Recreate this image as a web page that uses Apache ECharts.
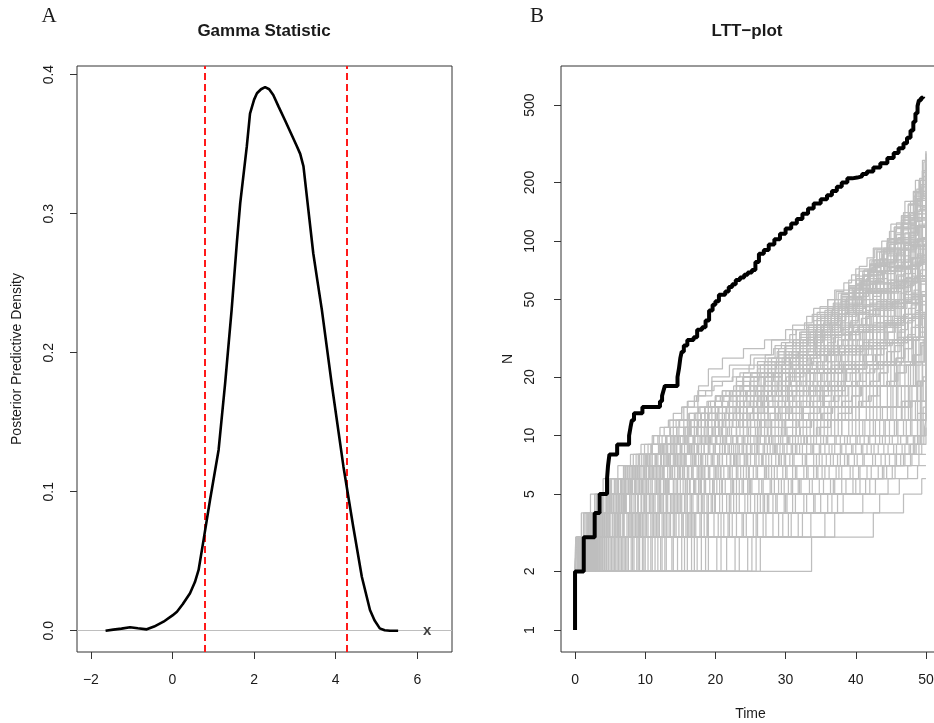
<!DOCTYPE html>
<html><head><meta charset="utf-8">
<script src="https://cdn.jsdelivr.net/npm/echarts@6/dist/echarts.min.js"></script>
<style>html,body{margin:0;padding:0;background:#fff}#c{width:934px;height:723px}</style>
</head><body><div id="c"></div>
<script>
// ---------- Panel A: Gamma statistic posterior predictive density ----------
const densX = [-1.64,-1.45,-1.25,-1.04,-0.85,-0.63,-0.45,-0.22,0.0,0.11,0.25,0.43,0.55,0.64,0.76,0.92,1.13,1.29,1.45,1.58,1.66,1.82,1.90,2.0,2.07,2.17,2.27,2.37,2.47,2.6,2.76,2.9,3.04,3.13,3.21,3.33,3.45,3.55,3.66,3.90,4.19,4.43,4.64,4.84,4.95,5.08,5.2,5.33,5.53];
const densY = [0.0,0.0008,0.0015,0.0025,0.0018,0.001,0.003,0.0065,0.011,0.0137,0.019,0.027,0.035,0.0437,0.065,0.094,0.13,0.178,0.231,0.28,0.3075,0.348,0.372,0.382,0.3866,0.3895,0.391,0.3895,0.3854,0.377,0.367,0.358,0.349,0.343,0.334,0.3027,0.2715,0.252,0.231,0.178,0.118,0.0748,0.0388,0.0149,0.0075,0.0017,0.0004,0.0,0.0];
const ciBounds = [0.80, 4.28];
const observedGamma = [6.24, 0];
const gammaXTicks = [-2, 0, 2, 4, 6];
const gammaYTicks = [0, 0.1, 0.2, 0.3, 0.4];

// ---------- Panel B: LTT plot ----------
const obsT = [0,0,1.24,2.8,3.5,4.56,4.7,4.9,6.0,7.7,7.9,8.1,8.4,9.6,12.1,12.4,12.6,12.8,14.6,14.8,15.0,15.2,15.5,16.0,16.9,17.4,18.1,18.6,19.1,19.6,20.0,20.5,21.4,21.9,22.4,22.9,23.5,24.1,24.6,25.2,25.7,26.2,26.9,27.6,28.4,29.2,30.0,30.8,31.6,32.4,33.2,34.0,35.0,35.9,36.6,37.3,38.0,38.8,39.5,40.2,40.9,41.6,42.5,43.5,44.5,45.4,46.1,46.8,47.3,47.8,48.2,48.5,48.8,49.0,49.3,49.6];
const obsN = [1,2,3,4,5,6,7,8,9,10,11,12,13,14,15,16,17,18,20,22,25,27,29,31,32,35,36,39,44,47,49,53,55,58,60,63,65,67,69,71,78,86,90,96,102,109,116,123,130,138,147,156,164,172,181,190,200,210,212,215,221,228,239,251,267,284,300,318,340,370,410,454,495,530,545,552];
// simulated LTT curves: flat [time, N, time, N, ...]
const simLines = [
 [0,2, 0.4,3, 2.5,4, 4.8,5, 6.5,6, 8.2,7, 9.5,8, 11,9, 12.4,10, 14,12, 15.5,14, 17.5,17, 19.5,20, 22,23, 25,26, 28,31, 31,37, 34,45, 37,56, 40,72, 42.5,92, 45,122, 47,160, 48.5,205, 49.5,260, 50,290],
 [0,2, 1.0,3, 1.6,4, 3.9,5, 5.2,6, 7.5,7, 9.8,8, 12.5,9, 13.8,10, 15.5,11, 17,13, 19,15, 21,17, 24,20, 27,24, 30,29, 33,35, 36,44, 39,57, 42,75, 44.5,98, 46.5,128, 48.3,170, 49.6,225, 50,250],
 [0,2, 0.6,3, 3.0,4, 5.5,5, 7.0,6, 9.0,7, 10.8,8, 13.2,9, 15,10, 16.5,12, 18.5,14, 21,17, 24,21, 27,24, 30,29, 33,36, 36,45, 39,58, 42,76, 44.5,100, 46.8,132, 48.6,175, 50,220],
 [0,2, 2.0,3, 3.3,4, 4.5,5, 6.8,6, 9.2,7, 11.5,8, 12.8,9, 14.2,10, 16,11, 18,13, 20,16, 23,20, 26,23, 29,27, 32,33, 35,41, 38,52, 41,67, 44,88, 46.5,116, 48.5,152, 50,195],
 [0,2, 0.3,3, 4.2,4, 6.0,5, 7.8,6, 8.8,7, 11.8,8, 14.5,9, 16,10, 18,12, 20,14, 22.5,17, 25.5,20, 28.5,24, 31.5,30, 34.5,37, 37.5,47, 40.5,61, 43.5,80, 46,104, 48.3,138, 50,180],
 [0,2, 1.3,3, 2.2,4, 5.0,5, 6.2,6, 10.0,7, 12.2,8, 14.0,9, 17.5,10, 19,11, 21,13, 23.5,15, 26,18, 29,23, 32,29, 35,37, 38,48, 41,62, 44,80, 46.5,102, 48.5,132, 50,165],
 [0,2, 3.1,3, 4.0,4, 5.9,5, 8.5,6, 10.8,7, 13.5,8, 15.2,9, 16.8,10, 18.5,12, 21,14, 24,17, 27,21, 30,26, 33,33, 36,42, 39,54, 42,70, 45,92, 47.5,118, 50,150],
 [0,2, 0.8,3, 5.3,4, 7.2,5, 9.6,6, 12.0,7, 13.0,8, 16.2,9, 18.8,10, 20.5,12, 23,14, 26,17, 29,21, 32,27, 35,34, 38,44, 41,57, 44,74, 47,98, 49,122, 50,140],
 [0,2, 2.6,3, 6.5,4, 7.3,5, 9.0,6, 11.2,7, 14.8,8, 17.0,9, 19.5,10, 21.5,12, 24,14, 27,17, 30,21, 33,26, 36,33, 39,43, 42,56, 45,74, 47.5,96, 49.3,118, 50,130],
 [0,2, 1.8,3, 3.6,4, 8.0,5, 10.5,6, 13.5,7, 15.8,8, 18.0,9, 20.0,10, 22,12, 24.5,14, 27.5,17, 30.5,21, 33.5,26, 36.5,33, 39.5,42, 42.5,55, 45.5,72, 48,94, 50,120],
 [0,2, 4.5,3, 5.6,4, 8.6,5, 11.0,6, 12.5,7, 16.5,8, 19.0,9, 21.2,10, 23,11, 25,13, 27.5,15, 30,18, 33,23, 36,29, 39,37, 42,48, 45,63, 47.5,82, 49.5,104, 50,110],
 [0,2, 0.5,3, 7.0,4, 9.5,5, 12.8,6, 14.6,7, 17.2,8, 20.6,9, 22.5,10, 24.5,12, 27,14, 30,17, 33,21, 36,27, 39,34, 42,44, 45,58, 47.5,75, 49.5,95, 50,100],
 [0,2, 3.8,3, 8.2,4, 10.2,5, 11.6,6, 15.4,7, 18.2,8, 20.0,9, 23.8,10, 26,12, 28.5,14, 31,17, 34,21, 37,27, 40,35, 43,45, 46,60, 48.5,78, 50,95],
 [0,2, 1.1,3, 2.9,4, 6.6,5, 13.2,6, 16.8,7, 19.6,8, 22.0,9, 24.2,10, 26.5,12, 29,14, 32,17, 35,21, 38,27, 41,35, 44,46, 47,62, 49,78, 50,90],
 [0,2, 5.2,3, 9.2,4, 11.8,5, 14.0,6, 17.8,7, 21.0,8, 23.2,9, 25.5,10, 27.5,12, 30,14, 33,17, 36,22, 39,28, 42,36, 45,48, 47.5,64, 49.5,80, 50,85],
 [0,2, 2.3,3, 6.2,4, 10.8,5, 15.0,6, 18.5,7, 20.3,8, 24.0,9, 26.4,10, 28.5,12, 31,14, 34,18, 37,23, 40,29, 43,38, 46,50, 48.5,66, 50,80],
 [0,2, 6.4,3, 7.8,4, 12.4,5, 16.0,6, 19.2,7, 22.8,8, 25.0,9, 27.2,10, 29.5,12, 32,14, 35,18, 38,23, 41,30, 44,39, 47,53, 49,66, 50,75],
 [0,2, 0.9,3, 9.8,4, 13.6,5, 17.0,6, 21.2,7, 23.5,8, 26.2,9, 28.0,10, 30,12, 32.5,14, 35.5,17, 38.5,22, 41.5,28, 44.5,37, 47,48, 49.2,62, 50,70],
 [0,2, 3.4,3, 11.0,4, 14.2,5, 18.6,6, 20.8,7, 24.6,8, 27.0,9, 29.3,10, 31.5,12, 34,14, 37,18, 40,23, 43,30, 46,40, 48.5,53, 50,65],
 [0,2, 7.6,3, 10.0,4, 13.0,5, 19.8,6, 22.4,7, 25.8,8, 28.4,9, 30.6,10, 32.5,12, 35,14, 38,18, 41,23, 44,31, 47,42, 49,53, 50,60],
 [0,2, 2.0,3, 12.0,4, 15.6,5, 17.8,6, 23.6,7, 27.2,8, 29.6,9, 31.8,10, 34,12, 36.5,14, 39.5,18, 42.5,23, 45.5,31, 48,42, 50,55],
 [0,2, 8.8,3, 13.0,4, 16.6,5, 20.2,6, 24.8,7, 28.0,8, 30.8,9, 33.0,10, 35,12, 37.5,14, 40.5,18, 43.5,23, 46.5,31, 49,42, 50,50],
 [0,2, 4.8,3, 14.4,4, 18.0,5, 22.2,6, 26.0,7, 29.8,8, 32.0,9, 34.4,10, 36.5,12, 39,14, 42,18, 45,24, 47.5,32, 49.5,41, 50,45],
 [0,2, 10.4,3, 12.6,4, 19.4,5, 23.4,6, 27.6,7, 31.0,8, 33.6,9, 35.8,10, 38,12, 40.5,14, 43.5,18, 46,23, 48.5,31, 50,40],
 [0,2, 1.5,3, 16.2,4, 21.0,5, 25.2,6, 28.8,7, 32.4,8, 35.0,9, 37.2,10, 39.5,12, 42,14, 45,18, 47.5,23, 49.3,30, 50,36],
 [0,2, 12.2,3, 15.2,4, 22.6,5, 26.6,6, 30.2,7, 34.0,8, 36.6,9, 38.8,10, 41,12, 43.5,14, 46,18, 48.5,24, 50,32],
 [0,2, 6.0,3, 18.4,4, 24.2,5, 28.0,6, 31.6,7, 35.2,8, 38.0,9, 40.2,10, 42.5,12, 45,14, 47.5,18, 49.5,24, 50,28],
 [0,2, 13.8,3, 20.4,4, 26.0,5, 29.4,6, 33.2,7, 36.8,8, 39.6,9, 41.8,10, 44,12, 46.5,15, 48.8,19, 50,25],
 [0,2, 14.6,3, 17.2,4, 27.4,5, 30.8,6, 34.6,7, 38.4,8, 41.0,9, 43.4,10, 45.5,12, 47.5,15, 49.2,19, 50,22],
 [0,2, 9.0,3, 21.8,4, 25.6,5, 32.2,6, 36.2,7, 39.8,8, 42.6,9, 44.8,10, 46.8,12, 48.5,15, 50,20],
 [0,2, 16.0,3, 23.0,4, 28.6,5, 33.8,6, 37.6,7, 41.2,8, 44.0,9, 46.0,10, 47.8,12, 49.2,15, 50,18],
 [0,2, 19.0,3, 24.4,4, 30.0,5, 35.4,6, 39.2,7, 42.8,8, 45.4,9, 47.2,10, 48.8,12, 49.6,14, 50,16],
 [0,2, 11.4,3, 26.8,4, 31.4,5, 37.0,6, 40.6,7, 44.2,8, 46.6,9, 48.2,10, 49.2,12, 50,14],
 [0,2, 21.6,3, 29.0,4, 33.0,5, 38.6,6, 42.2,7, 45.6,8, 47.6,9, 48.8,10, 49.6,12, 50,13],
 [0,2, 24.6,3, 30.4,4, 36.0,5, 40.0,6, 43.8,7, 46.8,8, 48.6,9, 49.7,10, 50,10],
 [0,2, 18.0,3, 33.6,4, 38.2,5, 42.0,6, 45.2,7, 48.0,8, 49.4,9, 50,9],
 [0,2, 26.4,3, 35.6,4, 41.0,5, 44.6,6, 47.4,7, 49.0,8, 50,8],
 [0,2, 33.7,3, 42.5,4, 46.8,5, 49.4,6, 50,6],
 [0,2, 25.2,3, 37.0,4, 43.4,5, 46.2,6, 48.8,7, 50,7],
 [0,2, 0.2,3, 1.4,4, 2.8,5, 4.9,6, 7.0,7, 9.0,8, 11.0,9, 13.0,10, 14.8,12, 16,15, 17.6,18, 19,22, 21,25, 24,28, 27,31, 30,35, 33,41, 36,50, 39,63, 42,80, 44.5,103, 46.5,135, 48.2,180, 49.5,230, 50,260],
 [0,2, 1.7,3, 2.4,4, 4.4,5, 8.0,6, 9.4,7, 10.2,8, 12.0,9, 14.8,10, 16.5,12, 19,14, 22,17, 25,21, 28,25, 31,31, 34,39, 37,50, 40,66, 43,88, 45.5,118, 47.5,155, 49.2,205, 50,235],
 [0,2, 0.7,3, 3.5,4, 5.4,5, 7.4,6, 8.6,7, 11.0,8, 13.6,9, 15.6,10, 17.5,12, 20,14, 23,18, 26,22, 29,26, 32,32, 35,40, 38,51, 41,67, 44,90, 46.5,122, 48.5,162, 50,210],
 [0,2, 2.8,3, 4.6,4, 6.4,5, 9.2,6, 11.6,7, 12.6,8, 15.0,9, 17.0,10, 19,12, 21.5,14, 24.5,17, 27.5,21, 30.5,27, 33.5,34, 36.5,44, 39.5,57, 42.5,74, 45.5,97, 48,130, 50,175],
 [0,2, 0.4,3, 5.8,4, 6.9,5, 8.8,6, 10.6,7, 14.2,8, 16.0,9, 18.4,10, 20.5,12, 23,14, 26,17, 29,22, 32,28, 35,36, 38,46, 41,60, 44,78, 46.5,100, 48.5,128, 50,160],
 [0,2, 3.6,3, 4.3,4, 9.4,5, 11.4,6, 13.8,7, 15.4,8, 17.6,9, 19.2,10, 21,12, 23.5,14, 26.5,17, 29.5,21, 32.5,26, 35.5,33, 38.5,43, 41.5,56, 44.5,73, 47,95, 49,120, 50,145],
 [0,2, 1.2,3, 7.6,4, 9.0,5, 12.2,6, 14.8,7, 17.0,8, 19.8,9, 21.6,10, 23.5,12, 26,14, 29,17, 32,22, 35,28, 38,36, 41,46, 44,60, 46.5,78, 48.5,100, 50,125],
 [0,2, 5.6,3, 6.8,4, 10.6,5, 13.4,6, 16.2,7, 18.0,8, 21.4,9, 23.0,10, 25,12, 27.5,14, 30.5,17, 33.5,22, 36.5,28, 39.5,36, 42.5,47, 45.5,62, 48,82, 49.6,104, 50,115],
 [0,2, 2.2,3, 8.4,4, 12.0,5, 14.4,6, 16.6,7, 19.4,8, 21.8,9, 24.0,10, 26,12, 28.5,14, 31.5,17, 34.5,22, 37.5,28, 40.5,36, 43.5,47, 46.5,63, 48.8,84, 50,105],
 [0,2, 7.2,3, 9.6,4, 11.4,5, 15.8,6, 18.0,7, 20.6,8, 23.4,9, 25.0,10, 27,12, 29.5,14, 32.5,17, 35.5,22, 38.5,28, 41.5,36, 44.5,48, 47,64, 49,82, 50,98],
 [0,2, 0.6,3, 10.2,4, 13.8,5, 16.4,6, 19.0,7, 22.2,8, 24.4,9, 26.0,10, 28,12, 30.5,14, 33.5,18, 36.5,23, 39.5,29, 42.5,38, 45.5,50, 48,66, 50,88],
 [0,2, 4.0,3, 11.6,4, 15.0,5, 17.6,6, 20.4,7, 23.0,8, 25.6,9, 27.6,10, 29.8,12, 32.3,14, 35.3,18, 38.3,23, 41.3,29, 44.3,38, 47,51, 49.2,66, 50,78],
 [0,2, 8.2,3, 12.8,4, 16.8,5, 19.6,6, 22.0,7, 24.2,8, 27.4,9, 29.0,10, 31,12, 33.5,14, 36.5,18, 39.5,23, 42.5,30, 45.5,40, 48,52, 50,68],
 [0,2, 2.6,3, 13.4,4, 17.4,5, 21.4,6, 24.0,7, 26.6,8, 28.8,9, 31.0,10, 33,12, 35.5,14, 38.5,18, 41.5,23, 44.5,30, 47,40, 49.2,52, 50,62],
 [0,2, 10.8,3, 15.4,4, 18.8,5, 22.6,6, 25.4,7, 28.6,8, 30.2,9, 32.6,10, 34.5,12, 37,14, 40,18, 43,24, 46,32, 48.5,43, 50,57],
 [0,2, 5.0,3, 14.0,4, 20.0,5, 24.0,6, 27.0,7, 29.4,8, 32.4,9, 34.0,10, 36,12, 38.5,14, 41.5,18, 44.5,24, 47,32, 49.2,42, 50,52],
 [0,2, 13.0,3, 16.8,4, 21.6,5, 24.6,6, 28.4,7, 30.6,8, 33.8,9, 35.4,10, 37.5,12, 40,14, 43,18, 45.8,24, 48.2,32, 50,47],
 [0,2, 3.0,3, 19.0,4, 23.0,5, 26.2,6, 29.6,7, 32.8,8, 34.8,9, 37.0,10, 39,12, 41.5,14, 44.5,18, 47,24, 49,32, 50,42],
 [0,2, 15.2,3, 18.8,4, 24.6,5, 27.8,6, 31.0,7, 34.4,8, 36.2,9, 38.4,10, 40.5,12, 43,14, 45.8,18, 48.2,24, 49.8,32, 50,38],
 [0,2, 7.0,3, 20.8,4, 26.4,5, 29.0,6, 32.6,7, 35.8,8, 37.8,9, 40.0,10, 42,12, 44.5,14, 47,18, 49,24, 50,34],
 [0,2, 17.4,3, 22.4,4, 27.0,5, 30.4,6, 34.0,7, 37.4,8, 39.4,9, 41.2,10, 43.4,12, 45.8,14, 48,18, 49.5,24, 50,30],
 [0,2, 20.2,3, 25.4,4, 28.2,5, 31.8,6, 35.6,7, 38.8,8, 40.8,9, 42.8,10, 44.8,12, 47,15, 48.8,19, 50,26],
 [0,2, 9.6,3, 23.8,4, 29.8,5, 33.4,6, 37.2,7, 40.2,8, 42.2,9, 44.2,10, 46,12, 48,15, 49.6,20, 50,24],
 [0,2, 22.8,3, 31.8,4, 35.0,5, 39.6,6, 43.2,7, 45.8,8, 47.8,9, 49.0,10, 49.8,11, 50,12],
 [0,2, 12.8,3, 28.2,4, 34.2,5, 41.4,6, 44.4,7, 47.0,8, 48.4,9, 49.4,10, 50,11],
 [0,2, 0.3,3, 1.9,4, 3.4,5, 5.6,6, 7.2,7, 8.7,8, 10.4,9, 11.8,10, 13.5,12, 15.2,14, 17,16, 19.5,19, 22.5,22, 25.5,25, 28.5,29, 31.5,35, 34.5,43, 37.5,54, 40.5,70, 43,90, 45.5,118, 47.5,155, 49,205, 50,270],
 [0,2, 1.4,3, 2.7,4, 4.1,5, 6.0,6, 8.4,7, 10.6,8, 12.2,9, 13.6,10, 15.5,12, 17.5,14, 20,16, 23,19, 26,23, 29,28, 32,34, 35,42, 38,54, 41,70, 44,92, 46.5,122, 48.5,165, 49.7,215, 50,240],
 [0,2, 0.5,3, 2.1,4, 6.2,5, 7.6,6, 9.8,7, 11.4,8, 12.4,9, 15.8,10, 17.5,12, 19.5,14, 22,16, 25,20, 28,24, 31,30, 34,37, 37,47, 40,60, 43,78, 45.5,102, 47.8,138, 49.5,180, 50,205],
 [0,2, 1.9,3, 3.2,4, 5.7,5, 8.2,6, 9.9,7, 12.8,8, 14.4,9, 16.2,10, 18,12, 20.5,14, 23.5,17, 26.5,21, 29.5,25, 32.5,31, 35.5,39, 38.5,50, 41.5,64, 44.5,84, 47,110, 49,145, 50,185],
 [0,2, 0.9,3, 4.8,4, 6.6,5, 8.0,6, 11.0,7, 13.2,8, 15.6,9, 17.8,10, 19.5,12, 22,14, 25,17, 28,21, 31,26, 34,33, 37,42, 40,54, 43,70, 45.5,90, 47.8,120, 49.5,150, 50,170],
 [0,2, 2.4,3, 3.4,4, 7.0,5, 9.8,6, 11.8,7, 14.0,8, 16.6,9, 18.0,10, 20,12, 22.5,14, 25.5,17, 28.5,21, 31.5,26, 34.5,33, 37.5,42, 40.5,54, 43.5,70, 46,90, 48.3,118, 50,155],
 [0,2, 0.2,3, 6.0,4, 8.4,5, 10.2,6, 12.6,7, 15.0,8, 17.4,9, 19.0,10, 21,12, 23.5,14, 26.5,17, 29.5,21, 32.5,26, 35.5,33, 38.5,42, 41.5,54, 44.5,70, 47,92, 49,118, 50,142],
 [0,2, 3.3,3, 5.0,4, 7.8,5, 11.8,6, 13.2,7, 15.2,8, 18.4,9, 20.2,10, 22,12, 24.5,14, 27.5,17, 30.5,21, 33.5,26, 36.5,33, 39.5,42, 42.5,55, 45.5,72, 47.8,94, 49.5,118, 50,135],
 [0,2, 1.6,3, 7.4,4, 10.0,5, 12.0,6, 14.2,7, 16.8,8, 19.2,9, 21.0,10, 23,12, 25.5,14, 28.5,17, 31.5,21, 34.5,26, 37.5,33, 40.5,42, 43.5,55, 46.5,72, 48.6,94, 50,118],
 [0,2, 4.2,3, 6.0,4, 9.0,5, 12.6,6, 15.0,7, 17.6,8, 20.0,9, 22.2,10, 24,12, 26.5,14, 29.5,17, 32.5,21, 35.5,27, 38.5,34, 41.5,44, 44.5,57, 47,74, 49.2,94, 50,108],
 [0,2, 0.7,3, 8.8,4, 11.2,5, 13.0,6, 15.6,7, 18.6,8, 21.0,9, 23.2,10, 25,12, 27.5,14, 30.5,17, 33.5,21, 36.5,27, 39.5,34, 42.5,44, 45.5,58, 48,76, 49.7,96, 50,102],
 [0,2, 2.9,3, 9.4,4, 12.2,5, 14.6,6, 17.4,7, 19.8,8, 22.6,9, 24.6,10, 26.5,12, 29,14, 32,17, 35,21, 38,27, 41,35, 44,46, 46.8,61, 49,78, 50,92],
 [0,2, 5.8,3, 8.0,4, 13.2,5, 15.4,6, 18.2,7, 21.6,8, 23.8,9, 26.0,10, 28,12, 30.5,14, 33.5,17, 36.5,22, 39.5,28, 42.5,36, 45.5,48, 48,64, 50,83],
 [0,2, 1.0,3, 10.8,4, 14.6,5, 17.2,6, 19.8,7, 22.6,8, 25.2,9, 27.0,10, 29,12, 31.5,14, 34.5,17, 37.5,22, 40.5,28, 43.5,36, 46.5,48, 49,64, 50,77],
 [0,2, 6.8,3, 9.0,4, 12.0,5, 18.0,6, 20.2,7, 23.2,8, 26.0,9, 28.2,10, 30,12, 32.5,14, 35.5,17, 38.5,22, 41.5,28, 44.5,37, 47,48, 49.3,62, 50,72],
 [0,2, 3.2,3, 12.4,4, 15.8,5, 18.4,6, 21.8,7, 24.4,8, 27.8,9, 29.6,10, 31.5,12, 34,14, 37,18, 40,23, 43,30, 46,40, 48.5,53, 50,66],
 [0,2, 9.2,3, 11.2,4, 14.8,5, 19.2,6, 23.0,7, 25.6,8, 28.2,9, 30.2,10, 32,12, 34.5,14, 37.5,18, 40.5,23, 43.5,30, 46.5,40, 49,52, 50,63],
 [0,2, 1.9,3, 13.6,4, 16.4,5, 20.6,6, 23.2,7, 26.2,8, 29.2,9, 31.4,10, 33.5,12, 36,14, 39,18, 42,23, 45,30, 47.5,40, 49.5,52, 50,58],
 [0,2, 11.8,3, 14.2,4, 18.4,5, 21.0,6, 24.4,7, 27.6,8, 29.8,9, 32.2,10, 34,12, 36.5,14, 39.5,18, 42.5,24, 45.5,31, 48,41, 50,53],
 [0,2, 4.4,3, 15.8,4, 19.0,5, 23.0,6, 25.8,7, 29.0,8, 31.6,9, 33.6,10, 35.5,12, 38,14, 41,18, 44,24, 46.8,31, 49,41, 50,49],
 [0,2, 8.0,3, 17.0,4, 20.6,5, 23.8,6, 27.2,7, 30.0,8, 33.0,9, 35.0,10, 37,12, 39.5,14, 42.5,18, 45.5,24, 48,32, 49.8,40, 50,44],
 [0,2, 12.4,3, 16.0,4, 22.0,5, 25.0,6, 28.0,7, 31.2,8, 34.0,9, 36.0,10, 38,12, 40.5,14, 43.5,18, 46.3,24, 48.6,32, 50,41],
 [0,2, 2.4,3, 17.8,4, 23.4,5, 26.8,6, 30.0,7, 33.0,8, 35.6,9, 37.8,10, 40,12, 42.5,14, 45.3,18, 47.8,24, 49.6,31, 50,37],
 [0,2, 14.0,3, 19.8,4, 25.0,5, 28.4,6, 31.4,7, 34.8,8, 37.0,9, 39.2,10, 41.3,12, 43.8,14, 46.5,18, 48.7,24, 50,33],
 [0,2, 6.6,3, 21.2,4, 26.8,5, 29.8,6, 33.0,7, 36.4,8, 38.6,9, 40.6,10, 42.8,12, 45.3,14, 47.7,18, 49.5,23, 50,29],
 [0,2, 16.6,3, 22.0,4, 27.6,5, 31.0,6, 34.4,7, 37.8,8, 40.0,9, 42.0,10, 44.2,12, 46.6,15, 48.7,19, 50,27],
 [0,2, 10.0,3, 24.0,4, 28.8,5, 32.0,6, 35.2,7, 39.0,8, 41.6,9, 43.8,10, 45.8,12, 47.8,15, 49.4,19, 50,23],
 [0,2, 18.6,3, 25.8,4, 30.2,5, 34.8,6, 38.0,7, 41.0,8, 43.2,9, 45.2,10, 47.2,12, 48.8,15, 50,21],
 [0,2, 15.6,3, 27.2,4, 31.0,5, 36.4,6, 39.6,7, 42.4,8, 44.6,9, 46.4,10, 48,12, 49.4,15, 50,19],
 [0,2, 20.8,3, 26.0,4, 32.6,5, 36.8,6, 40.4,7, 43.6,8, 45.8,9, 47.4,10, 48.8,13, 50,17],
 [0,2, 23.4,3, 29.6,4, 34.0,5, 38.0,6, 41.6,7, 44.8,8, 47.0,9, 48.4,10, 49.4,12, 50,15],
 [0,2, 17.0,3, 30.8,4, 36.6,5, 40.6,6, 44.0,7, 46.4,8, 48.2,9, 49.2,10, 50,13],
 [0,2, 25.8,3, 32.4,4, 37.4,5, 42.8,6, 45.6,7, 47.8,8, 49.0,9, 50,10],
 [0,2, 0.3,3, 1.2,4, 3.0,5, 5.0,6, 7.8,7, 10.0,8, 12.6,9, 14.4,10, 16.5,11, 19,12, 22,14, 25,16, 28,19, 31,23, 34,29, 37,37, 40,47, 43,61, 46,80, 48.3,102, 50,120],
 [0,2, 1.1,3, 3.8,4, 4.9,5, 7.2,6, 8.9,7, 10.4,8, 11.9,9, 14.6,10, 16.3,12, 18.5,14, 21,17, 24,20, 27,24, 30,30, 33,37, 36,46, 39,59, 42,76, 44.5,98, 46.8,128, 48.8,165, 50,200],
 [0,2, 2.1,3, 5.4,4, 7.0,5, 10.4,6, 12.4,7, 14.6,8, 16.8,9, 18.6,10, 20.5,12, 23,14, 26,17, 29,21, 32,26, 35,33, 38,42, 41,54, 44,70, 46.5,90, 48.6,118, 50,150],
 [0,2, 0.5,3, 1.8,4, 3.6,5, 5.1,6, 6.9,7, 8.3,8, 9.9,9, 11.2,10, 12.1,11, 13.3,12, 14.0,13, 15.2,14, 16.1,15, 17.3,16, 18.6,17, 19.8,18, 21.0,19, 22.4,20, 23.5,21, 24.8,23, 26.0,24, 27.1,26, 28.3,28, 29.4,30, 30.6,33, 31.5,35, 32.7,38, 33.8,42, 34.9,46, 36.0,50, 37.2,55, 38.3,61, 39.4,67, 40.5,74, 41.6,82, 42.7,91, 43.7,100, 44.8,112, 45.8,124, 46.8,140, 47.8,160, 48.7,185, 49.5,230, 50,280],
 [0,2, 1.2,3, 2.0,4, 4.6,5, 6.0,6, 7.7,7, 9.1,8, 10.8,9, 12.0,10, 13.6,11, 14.9,12, 16.3,13, 17.6,14, 18.8,15, 20.1,16, 21.5,17, 22.6,18, 23.9,20, 25.2,21, 26.4,23, 27.5,25, 28.8,27, 29.9,29, 31.1,31, 32.2,34, 33.3,37, 34.5,40, 35.6,44, 36.8,48, 37.9,53, 39.0,58, 40.1,64, 41.2,71, 42.3,79, 43.4,88, 44.5,98, 45.6,110, 46.6,124, 47.6,140, 48.6,160, 49.4,190, 50,225],
 [0,2, 0.8,3, 3.4,4, 5.0,5, 6.6,6, 8.4,7, 10.0,8, 11.9,9, 13.1,10, 14.5,11, 16.0,12, 17.2,13, 18.5,14, 19.9,15, 21.2,16, 22.4,17, 23.8,18, 25.0,20, 26.3,21, 27.5,23, 28.7,25, 29.8,27, 31.0,29, 32.1,31, 33.3,34, 34.4,37, 35.6,41, 36.7,45, 37.9,49, 39.0,54, 40.1,60, 41.2,66, 42.3,73, 43.4,81, 44.5,90, 45.6,101, 46.6,114, 47.6,130, 48.6,150, 49.4,170, 50,190],
 [0,2, 2.3,3, 3.9,4, 6.3,5, 7.9,6, 9.7,7, 11.6,8, 13.0,9, 14.7,10, 16.2,11, 17.6,12, 19.1,13, 20.4,14, 21.8,15, 23.0,16, 24.3,17, 25.5,18, 26.9,20, 28.2,21, 29.4,23, 30.6,25, 31.8,27, 33.0,29, 34.2,32, 35.3,35, 36.5,38, 37.6,42, 38.8,46, 39.9,51, 41.0,56, 42.1,62, 43.2,69, 44.3,77, 45.4,86, 46.5,97, 47.6,110, 48.6,126, 49.4,143, 50,160],
 [0,2, 0.4,3, 4.9,4, 7.0,5, 8.6,6, 10.5,7, 12.3,8, 14.2,9, 15.8,10, 17.3,11, 18.9,12, 20.3,13, 21.6,14, 23.1,15, 24.4,16, 25.7,17, 27.0,19, 28.2,20, 29.5,22, 30.8,24, 32.0,26, 33.2,28, 34.4,31, 35.6,34, 36.7,37, 37.9,41, 39.0,45, 40.2,50, 41.3,55, 42.4,61, 43.5,68, 44.6,76, 45.7,85, 46.8,95, 47.8,107, 48.8,120, 50,135],
 [0,2, 1.5,3, 3.0,4, 7.8,5, 9.5,6, 11.4,7, 13.3,8, 15.0,9, 16.9,10, 18.4,11, 19.9,12, 21.3,13, 22.8,14, 24.1,15, 25.5,16, 26.8,18, 28.1,19, 29.4,21, 30.6,22, 31.9,24, 33.1,26, 34.3,29, 35.5,31, 36.6,34, 37.8,38, 39.0,41, 40.1,45, 41.3,50, 42.4,55, 43.5,61, 44.6,68, 45.7,75, 46.8,84, 47.8,93, 48.8,103, 50,115],
 [0,2, 3.9,3, 5.7,4, 8.9,5, 10.8,6, 12.7,7, 14.4,8, 16.3,9, 18.0,10, 19.6,11, 21.1,12, 22.6,13, 24.0,14, 25.4,15, 26.8,16, 28.1,18, 29.4,19, 30.7,21, 32.0,23, 33.2,25, 34.4,27, 35.6,29, 36.8,32, 38.0,35, 39.1,38, 40.3,42, 41.4,46, 42.5,50, 43.6,55, 44.7,61, 45.8,67, 46.9,74, 47.9,82, 48.9,91, 50,100],
 [0,2, 0.9,3, 6.9,4, 9.9,5, 12.0,6, 13.9,7, 15.8,8, 17.6,9, 19.3,10, 20.9,11, 22.5,12, 24.0,13, 25.4,14, 26.8,15, 28.2,16, 29.5,18, 30.8,19, 32.1,21, 33.4,22, 34.6,24, 35.8,26, 37.0,29, 38.2,31, 39.3,34, 40.5,37, 41.6,41, 42.8,45, 43.9,49, 45.0,54, 46.1,59, 47.1,65, 48.1,72, 49.1,80, 50,88],
 [0,2, 2.7,3, 8.6,4, 11.0,5, 13.3,6, 15.3,7, 17.2,8, 19.0,9, 20.7,10, 22.3,11, 23.9,12, 25.4,13, 26.8,14, 28.2,15, 29.6,16, 30.9,18, 32.2,19, 33.5,21, 34.8,22, 36.0,24, 37.2,26, 38.4,29, 39.6,31, 40.7,34, 41.9,37, 43.0,41, 44.1,45, 45.2,49, 46.3,54, 47.3,59, 48.3,65, 49.2,71, 50,78],
 [0,2, 5.4,3, 9.0,4, 12.6,5, 14.6,6, 16.8,7, 18.9,8, 20.6,9, 22.4,10, 24.0,11, 25.6,12, 27.0,13, 28.5,14, 29.9,15, 31.2,16, 32.6,18, 33.9,19, 35.2,21, 36.4,22, 37.7,24, 38.9,26, 40.1,29, 41.2,31, 42.4,34, 43.5,37, 44.6,41, 45.7,45, 46.8,49, 47.9,54, 48.9,60, 50,68],
 [0,2, 1.3,3, 11.4,4, 14.0,5, 16.3,6, 18.4,7, 20.5,8, 22.3,9, 24.0,10, 25.7,11, 27.2,12, 28.8,13, 30.2,14, 31.6,15, 33.0,16, 34.3,18, 35.6,19, 36.9,21, 38.1,22, 39.4,24, 40.6,26, 41.8,29, 43.0,31, 44.1,34, 45.3,37, 46.4,41, 47.5,45, 48.6,50, 49.4,55, 50,60],
 [0,2, 7.4,3, 11.8,4, 15.2,5, 17.9,6, 20.0,7, 22.1,8, 24.0,9, 25.8,10, 27.4,11, 29.0,12, 30.5,13, 32.0,14, 33.4,15, 34.8,16, 36.1,18, 37.4,19, 38.7,21, 40.0,22, 41.2,24, 42.4,26, 43.6,29, 44.8,31, 45.9,34, 47.0,38, 48.1,42, 49.1,47, 50,52],
 [0,2, 3.5,3, 14.8,4, 17.6,5, 19.8,6, 22.1,7, 24.1,8, 25.9,9, 27.7,10, 29.4,11, 31.0,12, 32.5,13, 34.0,14, 35.4,15, 36.8,16, 38.1,18, 39.4,19, 40.7,21, 42.0,22, 43.2,24, 44.4,27, 45.6,29, 46.8,32, 47.9,36, 49.0,40, 50,45],
 [0,2, 9.8,3, 16.4,4, 19.6,5, 22.4,6, 24.7,7, 26.8,8, 28.6,9, 30.4,10, 32.1,11, 33.7,12, 35.3,13, 36.7,14, 38.1,15, 39.5,16, 40.8,18, 42.1,19, 43.4,21, 44.6,23, 45.8,25, 47.0,28, 48.1,31, 49.1,34, 50,38],
 [0,2, 5.6,3, 18.0,4, 22.0,5, 24.8,6, 27.3,7, 29.4,8, 31.4,9, 33.1,10, 34.8,11, 36.4,12, 38.0,13, 39.4,14, 40.8,15, 42.2,16, 43.5,18, 44.8,19, 46.0,21, 47.2,23, 48.4,26, 49.4,29, 50,32],
 [0,2, 0.2,3, 2.3,4, 3.1,5, 5.8,6, 7.4,7, 9.2,8, 10.9,9, 12.9,10, 14.5,11, 16.1,12, 17.9,13, 19.4,14, 20.9,15, 22.2,16, 23.6,17, 24.9,18, 26.2,20, 27.4,21, 28.6,23, 29.8,25, 30.9,27, 32.0,29, 33.2,32, 34.3,35, 35.4,38, 36.5,42, 37.6,46, 38.7,51, 39.8,56, 40.8,62, 41.8,69, 42.8,77, 43.8,86, 44.8,96, 45.8,108, 46.7,122, 47.6,140, 48.5,162, 49.3,195, 50,250],
 [0,2, 1.6,3, 2.6,4, 5.2,5, 7.0,6, 8.0,7, 10.3,8, 12.4,9, 14.0,10, 15.7,11, 17.4,12, 18.9,13, 20.4,14, 21.8,15, 23.1,16, 24.5,17, 25.8,18, 27.1,20, 28.3,21, 29.5,23, 30.7,25, 31.8,27, 33.0,29, 34.1,32, 35.2,35, 36.3,38, 37.4,42, 38.5,46, 39.6,51, 40.6,56, 41.6,62, 42.6,69, 43.6,77, 44.6,86, 45.6,97, 46.6,109, 47.5,124, 48.4,142, 49.2,170, 50,210],
 [0,2, 0.6,3, 4.0,4, 5.9,5, 8.1,6, 10.2,7, 11.5,8, 13.8,9, 15.4,10, 17.0,11, 18.6,12, 20.1,13, 21.6,14, 23.0,15, 24.4,16, 25.7,17, 27.0,19, 28.3,20, 29.5,22, 30.7,23, 31.9,25, 33.0,27, 34.2,30, 35.3,32, 36.4,35, 37.5,39, 38.6,43, 39.7,47, 40.8,52, 41.8,57, 42.8,63, 43.8,70, 44.8,78, 45.8,87, 46.8,98, 47.7,111, 48.6,127, 49.4,148, 50,175],
 [0,2, 3.0,3, 4.5,4, 6.8,5, 9.4,6, 11.0,7, 13.6,8, 15.2,9, 17.1,10, 18.8,11, 20.4,12, 21.9,13, 23.4,14, 24.8,15, 26.2,16, 27.5,17, 28.8,19, 30.1,20, 31.3,22, 32.5,23, 33.7,25, 34.9,28, 36.0,30, 37.1,33, 38.2,36, 39.3,39, 40.4,43, 41.5,47, 42.5,52, 43.6,57, 44.6,63, 45.6,70, 46.6,78, 47.6,88, 48.5,100, 49.3,118, 50,145],
 [0,2, 1.0,3, 6.3,4, 8.1,5, 10.0,6, 12.2,7, 14.3,8, 16.5,9, 18.1,10, 19.8,11, 21.4,12, 23.0,13, 24.5,14, 25.9,15, 27.3,16, 28.7,17, 30.0,19, 31.3,20, 32.6,22, 33.8,24, 35.0,26, 36.2,28, 37.4,31, 38.5,34, 39.7,37, 40.8,40, 41.9,44, 43.0,49, 44.0,54, 45.1,59, 46.1,66, 47.1,73, 48.1,82, 49.0,95, 50,125],
 [0,2, 4.7,3, 6.1,4, 9.8,5, 11.6,6, 13.6,7, 15.6,8, 17.4,9, 19.2,10, 20.8,11, 22.4,12, 23.9,13, 25.3,14, 26.7,15, 28.1,16, 29.4,18, 30.7,19, 32.0,21, 33.2,22, 34.4,24, 35.6,26, 36.8,29, 38.0,31, 39.1,34, 40.3,37, 41.4,41, 42.5,45, 43.6,50, 44.7,55, 45.8,61, 46.8,68, 47.8,76, 48.8,86, 49.5,96, 50,108],
 [0,2, 0.1,3, 8.0,4, 10.6,5, 12.9,6, 14.9,7, 16.7,8, 18.4,9, 20.1,10, 21.7,11, 23.3,12, 24.8,13, 26.2,14, 27.6,15, 29.0,16, 30.3,18, 31.6,19, 32.9,21, 34.1,22, 35.3,24, 36.5,26, 37.7,29, 38.9,31, 40.0,34, 41.1,37, 42.2,41, 43.3,45, 44.4,50, 45.5,55, 46.5,61, 47.5,68, 48.5,76, 49.4,85, 50,95],
 [0,2, 2.5,3, 9.3,4, 12.2,5, 14.1,6, 16.0,7, 17.9,8, 19.7,9, 21.4,10, 23.0,11, 24.6,12, 26.1,13, 27.5,14, 28.9,15, 30.3,16, 31.6,18, 32.9,19, 34.2,21, 35.4,22, 36.6,24, 37.8,26, 39.0,29, 40.2,31, 41.3,34, 42.4,37, 43.5,41, 44.6,45, 45.7,50, 46.8,55, 47.8,61, 48.8,68, 49.5,76, 50,84],
 [0,2, 6.2,3, 10.4,4, 13.0,5, 15.7,6, 17.6,7, 19.6,8, 21.3,9, 23.1,10, 24.7,11, 26.3,12, 27.8,13, 29.2,14, 30.6,15, 32.0,16, 33.3,18, 34.6,19, 35.9,21, 37.1,22, 38.3,24, 39.5,26, 40.7,29, 41.8,31, 43.0,34, 44.1,37, 45.2,41, 46.3,45, 47.3,50, 48.3,56, 49.2,63, 50,73],
 [0,2, 1.8,3, 12.0,4, 14.4,5, 16.9,6, 19.1,7, 21.0,8, 22.9,9, 24.6,10, 26.2,11, 27.8,12, 29.3,13, 30.8,14, 32.2,15, 33.6,16, 34.9,18, 36.2,19, 37.5,21, 38.7,22, 39.9,24, 41.1,26, 42.3,29, 43.5,31, 44.6,34, 45.7,38, 46.8,42, 47.9,47, 48.9,53, 50,64],
 [0,2, 8.4,3, 13.1,4, 16.0,5, 18.5,6, 20.7,7, 22.7,8, 24.5,9, 26.2,10, 27.9,11, 29.5,12, 31.0,13, 32.5,14, 33.9,15, 35.3,16, 36.6,18, 37.9,19, 39.2,21, 40.4,22, 41.6,24, 42.8,26, 44.0,29, 45.2,31, 46.3,35, 47.4,39, 48.5,44, 49.4,49, 50,56],
 [0,2, 4.2,3, 15.4,4, 18.2,5, 20.9,6, 23.0,7, 25.0,8, 26.8,9, 28.5,10, 30.2,11, 31.8,12, 33.3,13, 34.8,14, 36.2,15, 37.6,16, 38.9,18, 40.2,19, 41.5,21, 42.7,22, 43.9,24, 45.1,27, 46.3,30, 47.4,33, 48.5,37, 49.4,42, 50,48],
 [0,2, 11.0,3, 16.6,4, 19.9,5, 22.5,6, 24.8,7, 26.7,8, 28.6,9, 30.3,10, 32.0,11, 33.6,12, 35.1,13, 36.6,14, 38.0,15, 39.4,16, 40.7,18, 42.0,19, 43.3,21, 44.5,23, 45.7,25, 46.9,28, 48.0,31, 49.1,36, 50,42],
 [0,2, 2.9,3, 18.9,4, 22.2,5, 24.9,6, 27.0,7, 29.1,8, 31.0,9, 32.7,10, 34.4,11, 36.0,12, 37.5,13, 39.0,14, 40.4,15, 41.8,16, 43.1,18, 44.4,19, 45.7,21, 46.9,23, 48.1,26, 49.2,30, 50,35],
 [0,2, 0.1,3, 0.9,4, 2.2,5, 4.0,6, 6.1,7, 7.9,8, 9.4,9, 11.0,10, 12.7,11, 14.4,12, 16.2,13, 17.8,14, 19.3,15, 20.7,16, 22.1,17, 23.5,18, 24.9,19, 26.2,20, 27.5,22, 28.7,23, 29.9,25, 31.0,27, 32.1,29, 33.2,31, 34.3,34, 35.4,37, 36.5,41, 37.6,45, 38.7,50, 39.7,56, 40.7,63, 41.7,71, 42.7,80, 43.7,90, 44.7,102, 45.7,116, 46.6,133, 47.5,153, 48.3,178, 49.1,210, 49.7,255, 50,285]
];
const timeTicks = [0, 10, 20, 30, 40, 50];
const nTicks = [1, 2, 5, 10, 20, 50, 100, 200, 500];

// ---------- build ----------
const FONT = '"Liberation Sans", Arial, Helvetica, sans-serif';
const TXT = '#1a1a1a';
const lg = Math.log10;
const toPairs = a => { const o = []; for (let i = 0; i < a.length; i += 2) o.push([a[i], lg(a[i + 1])]); return o; };

const tickStyle = {show: true, length: 7, lineStyle: {color: '#333', width: 1}};
const labelBase = {fontSize: 14, color: TXT, fontFamily: FONT};
const hiddenLine = {show: false, onZero: false};

const series = [];
series.push({
  type: 'line', xAxisIndex: 0, yAxisIndex: 0, showSymbol: false, symbol: 'none',
  data: densX.map((x, i) => [x, densY[i]]),
  lineStyle: {color: '#000', width: 2.6}, z: 5, silent: true,
  markLine: {
    silent: true, symbol: ['none', 'none'], label: {show: false},
    data: [{yAxis: 0, lineStyle: {color: '#bebebe', width: 1, type: 'solid'}}]
  }
});
series.push({
  type: 'line', xAxisIndex: 0, yAxisIndex: 0, data: [], silent: true,
  markLine: {
    silent: true, symbol: ['none', 'none'], label: {show: false},
    lineStyle: {color: '#ff1a1a', width: 2, type: [7, 4]},
    data: ciBounds.map(v => ({xAxis: v}))
  }, z: 6
});
series.push({
  type: 'scatter', xAxisIndex: 0, yAxisIndex: 0, symbolSize: 1,
  itemStyle: {color: 'rgba(0,0,0,0)'}, silent: true,
  data: [observedGamma],
  label: {show: true, formatter: 'x', position: 'inside', fontSize: 15, fontWeight: 'bold', color: '#111', fontFamily: FONT},
  z: 7
});
simLines.forEach(a => series.push({
  type: 'line', xAxisIndex: 1, yAxisIndex: 1, step: 'end', showSymbol: false, symbol: 'none',
  data: toPairs(a), lineStyle: {color: '#bebebe', width: 1.25}, z: 2, silent: true
}));
series.push({
  type: 'line', xAxisIndex: 1, yAxisIndex: 1, step: 'end', showSymbol: false, symbol: 'none',
  data: obsT.map((t, i) => [t, lg(obsN[i])]),
  lineStyle: {color: '#000', width: 4}, z: 8, silent: true
});

const option = {
  animation: false,
  backgroundColor: '#fff',
  textStyle: {fontFamily: FONT},
  title: [
    {text: 'A', left: 49, top: 6, textAlign: 'center', padding: 0,
     textStyle: {fontFamily: '"Liberation Serif", "Times New Roman", serif', fontSize: 21, fontWeight: 'normal', color: TXT}},
    {text: 'B', left: 537, top: 6, textAlign: 'center', padding: 0,
     textStyle: {fontFamily: '"Liberation Serif", "Times New Roman", serif', fontSize: 21, fontWeight: 'normal', color: TXT}},
    {text: 'Gamma Statistic', left: 264, top: 23, textAlign: 'center', padding: 0,
     textStyle: {fontFamily: FONT, fontSize: 17, fontWeight: 'bold', color: TXT}},
    {text: 'LTT\u2212plot', left: 747, top: 23, textAlign: 'center', padding: 0,
     textStyle: {fontFamily: FONT, fontSize: 17, fontWeight: 'bold', color: TXT}}
  ],
  grid: [
    {left: 77, right: 482, top: 66, bottom: 71, show: true, borderColor: '#333', borderWidth: 1,
     backgroundColor: 'transparent', outerBoundsMode: 'none', containLabel: false},
    {left: 561, right: -6, top: 66, bottom: 71, show: true, borderColor: '#333', borderWidth: 1,
     backgroundColor: 'transparent', outerBoundsMode: 'none', containLabel: false}
  ],
  xAxis: [
    {gridIndex: 0, type: 'value', min: -2.34, max: 6.85,
     axisLine: hiddenLine, splitLine: {show: false},
     axisTick: Object.assign({customValues: gammaXTicks}, tickStyle),
     axisLabel: Object.assign({customValues: gammaXTicks, margin: 21,
       formatter: v => String(v).replace('-', '\u2212')}, labelBase)},
    {gridIndex: 1, type: 'value', min: -2, max: 52,
     axisLine: hiddenLine, splitLine: {show: false},
     axisTick: Object.assign({customValues: timeTicks}, tickStyle),
     axisLabel: Object.assign({customValues: timeTicks, margin: 21}, labelBase),
     name: 'Time', nameLocation: 'middle', nameGap: 55,
     nameTextStyle: {fontSize: 14, color: TXT, fontFamily: FONT}}
  ],
  yAxis: [
    {gridIndex: 0, type: 'value', min: -0.0153, max: 0.4062,
     axisLine: hiddenLine, splitLine: {show: false},
     axisTick: Object.assign({customValues: gammaYTicks}, tickStyle),
     axisLabel: Object.assign({customValues: gammaYTicks, rotate: 90, margin: 21,
       formatter: v => v.toFixed(1)}, labelBase),
     name: 'Posterior Predictive Density', nameLocation: 'middle', nameGap: 53,
     nameTextStyle: {fontSize: 14, color: TXT, fontFamily: FONT}},
    {gridIndex: 1, type: 'value', min: -0.113, max: 2.90,
     axisLine: hiddenLine, splitLine: {show: false},
     axisTick: Object.assign({customValues: nTicks.map(lg)}, tickStyle),
     axisLabel: Object.assign({customValues: nTicks.map(lg), rotate: 90, margin: 24,
       formatter: v => String(Math.round(Math.pow(10, v)))}, labelBase),
     name: 'N', nameLocation: 'middle', nameGap: 46,
     nameTextStyle: {fontSize: 14, color: TXT, fontFamily: FONT}}
  ],
  series: series
};

const chart = echarts.init(document.getElementById('c'), null, {renderer: 'canvas', width: 934, height: 723});
chart.setOption(option);
</script>
</body></html>
